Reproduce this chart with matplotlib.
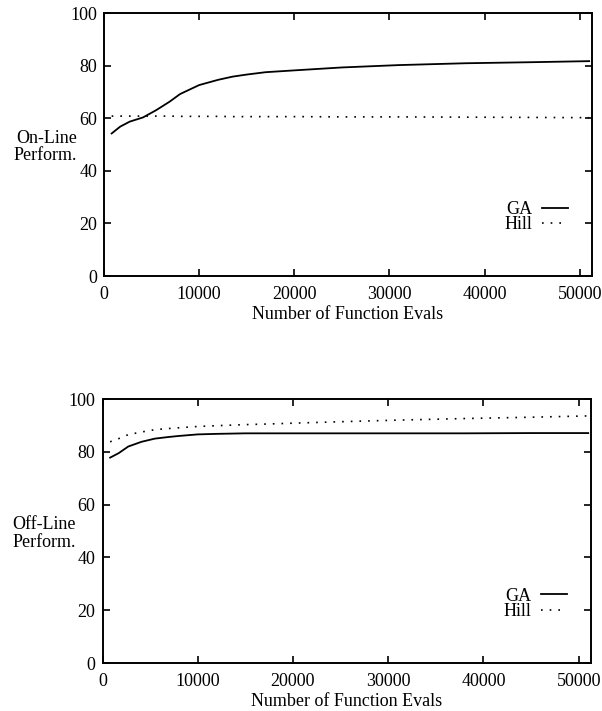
import matplotlib.pyplot as plt

plt.rcParams['font.family'] = ['Liberation Serif', 'DejaVu Serif']

# Readings taken off the reference curves
evals = [800, 1700, 2700, 4100, 5500, 6900, 8000, 10000, 12000, 13500, 15000,
         17000, 20500, 25000, 31000, 38000, 45000, 51000]
online_ga = [54.2, 56.8, 58.7, 60.3, 63.1, 66.3, 69.2, 72.6, 74.6, 75.8, 76.6,
             77.5, 78.3, 79.3, 80.2, 80.9, 81.3, 81.7]
online_hill = [60.8, 60.8, 60.8, 60.8, 60.8, 60.8, 60.7, 60.7, 60.7, 60.6, 60.6,
               60.6, 60.6, 60.5, 60.5, 60.4, 60.3, 60.2]
offline_ga = [77.8, 79.5, 82.0, 83.8, 85.0, 85.6, 86.0, 86.6, 86.8, 86.9, 87.0,
              87.0, 87.0, 87.0, 87.0, 87.0, 87.1, 87.1]
offline_hill = [83.8, 85.0, 86.5, 87.5, 88.4, 88.8, 89.1, 89.6, 89.9, 90.1, 90.3,
                90.5, 90.9, 91.4, 92.0, 92.6, 93.1, 93.6]

xticks = [0, 10000, 20000, 30000, 40000, 50000]
yticks = [0, 20, 40, 60, 80, 100]

fs = 13

fig = plt.figure(figsize=(6.02, 7.11), dpi=100)
ax1 = fig.add_axes([0.1728, 0.6118, 0.8106, 0.3699])
ax2 = fig.add_axes([0.1703, 0.0675, 0.8115, 0.3713])

panels = [(ax1, online_ga, online_hill, 'On-Line\nPerform.'),
          (ax2, offline_ga, offline_hill, 'Off-Line\nPerform.')]

for ax, ga, hill, ylab in panels:
    ax.plot(evals, ga, color='black', lw=1.3, label='GA')
    ax.plot(evals, hill, color='black', lw=1.2, linestyle=(0, (1, 4.2)), label='Hill')
    ax.set_xlim(0, 51300)
    ax.set_ylim(0, 100)
    ax.set_xticks(xticks)
    ax.set_yticks(yticks)
    ax.tick_params(direction='in', length=5, width=1.2, top=True, right=True,
                   labelsize=fs)
    ax.tick_params(axis='x', pad=7)
    ax.tick_params(axis='y', pad=5)
    for s in ax.spines.values():
        s.set_linewidth(1.4)
    ax.set_xlabel('Number of Function Evals', fontsize=fs, labelpad=2)
    ax.text(-0.055, 0.49, ylab, transform=ax.transAxes, ha='right', va='center',
            fontsize=fs, linespacing=1.05)
    ax.legend(loc='center right', bbox_to_anchor=(0.951, 0.224), frameon=False,
              markerfirst=False, fontsize=fs, handlelength=1.45,
              handletextpad=0.55, labelspacing=-0.08, borderpad=0,
              borderaxespad=0)

fig.savefig('out.png', dpi=100)
